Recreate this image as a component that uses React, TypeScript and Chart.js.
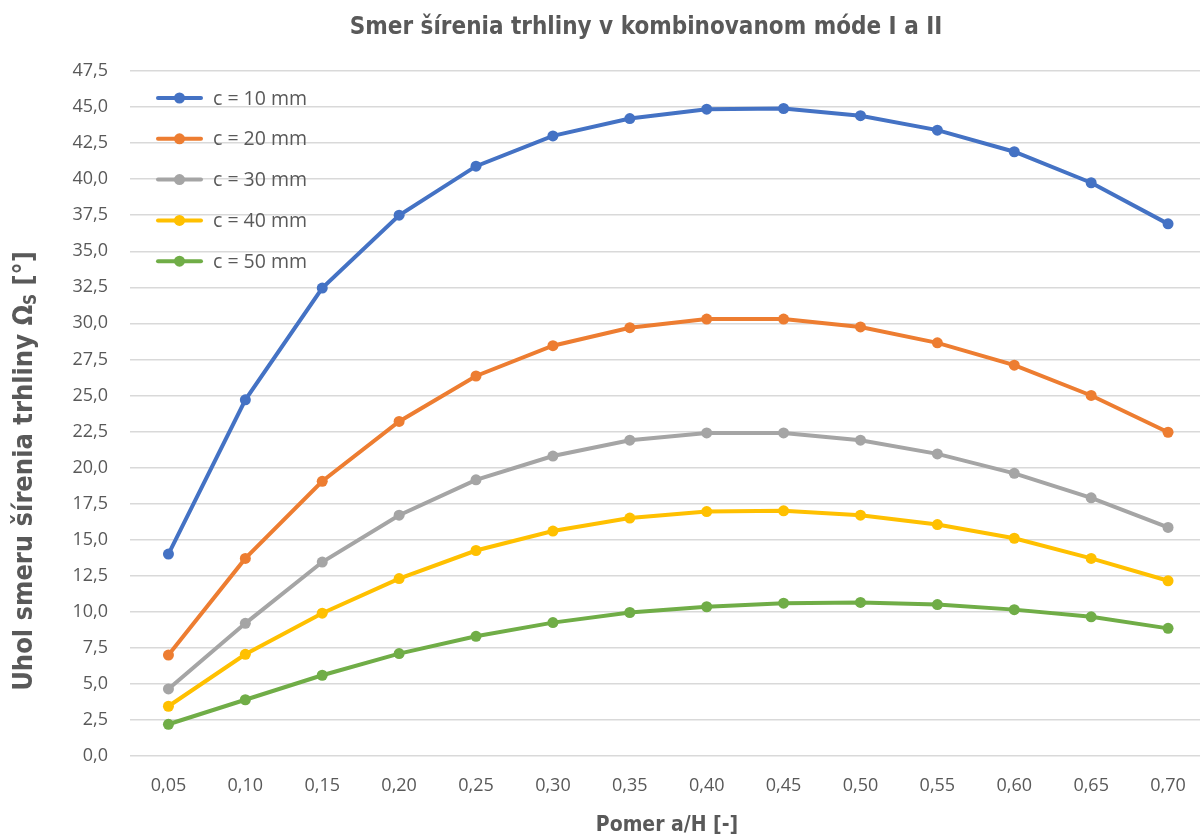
import React, { useEffect, useRef } from "react";
import { Chart, registerables } from "chart.js";

Chart.register(...registerables);

const categories = ["0,05", "0,10", "0,15", "0,20", "0,25", "0,30", "0,35", "0,40", "0,45", "0,50", "0,55", "0,60", "0,65", "0,70"];
const seriesLabels = ["c = 10 mm", "c = 20 mm", "c = 30 mm", "c = 40 mm", "c = 50 mm"];
const c10 = [14.0, 24.7, 32.45, 37.5, 40.9, 43.0, 44.2, 44.85, 44.9, 44.4, 43.4, 41.9, 39.75, 36.9];
const c20 = [7.0, 13.7, 19.05, 23.2, 26.35, 28.45, 29.7, 30.3, 30.3, 29.75, 28.65, 27.1, 25.0, 22.45];
const c30 = [4.65, 9.2, 13.45, 16.7, 19.15, 20.8, 21.9, 22.4, 22.4, 21.9, 20.95, 19.6, 17.9, 15.85];
const c40 = [3.45, 7.05, 9.9, 12.3, 14.25, 15.6, 16.5, 16.95, 17.0, 16.7, 16.05, 15.1, 13.7, 12.15];
const c50 = [2.2, 3.9, 5.6, 7.1, 8.3, 9.25, 9.95, 10.35, 10.6, 10.65, 10.5, 10.15, 9.65, 8.85];
const seriesValues = [c10, c20, c30, c40, c50];
const colors = ["#4472C4", "#ED7D31", "#A5A5A5", "#FFC000", "#70AD47"];

const titleText = "Smer šírenia trhliny v kombinovanom móde I a II";
const xTitle = "Pomer a/H [-]";
const yTitleMain = "Uhol smeru šírenia trhliny Ω";
const yTitleSub = "S";
const yTitleEnd = " [°]";

const TEXT = "#595959";
const TITLE_FONT = "'Liberation Sans Narrow', 'DejaVu Sans Condensed', sans-serif";
const TICK_FONT = "'Open Sans', 'Noto Sans', sans-serif";

const decorPlugin = {
  id: "decor",
  afterDraw(chart: any) {
    const ctx = chart.ctx as CanvasRenderingContext2D;
    ctx.save();
    ctx.fillStyle = TEXT;
    ctx.textBaseline = "middle";
    ctx.textAlign = "center";
    // main title
    ctx.font = `bold 24px ${TITLE_FONT}`;
    ctx.fillText(titleText, 646, 28);
    // x title
    ctx.font = `bold 21px ${TITLE_FONT}`;
    ctx.fillText(xTitle, 667, 826);
    // y title (rotated, with subscript)
    ctx.save();
    ctx.translate(25, 471);
    ctx.rotate(-Math.PI / 2);
    ctx.textAlign = "left";
    const mainFont = `bold 27px ${TITLE_FONT}`;
    const subFont = `bold 17px ${TITLE_FONT}`;
    ctx.font = mainFont;
    const w1 = ctx.measureText(yTitleMain).width;
    const w3 = ctx.measureText(yTitleEnd).width;
    ctx.font = subFont;
    const w2 = ctx.measureText(yTitleSub).width;
    let x = -(w1 + w2 + w3) / 2;
    ctx.font = mainFont;
    ctx.fillText(yTitleMain, x, 0);
    x += w1;
    ctx.font = subFont;
    ctx.fillText(yTitleSub, x, 7);
    x += w2;
    ctx.font = mainFont;
    ctx.fillText(yTitleEnd, x, 0);
    ctx.restore();
    // legend
    ctx.font = `19.5px ${TICK_FONT}`;
    ctx.textAlign = "left";
    chart.data.datasets.forEach((ds: any, i: number) => {
      const y = 98 + i * 40.8;
      ctx.strokeStyle = ds.borderColor;
      ctx.lineWidth = 4;
      ctx.lineCap = "round";
      ctx.beginPath();
      ctx.moveTo(158, y);
      ctx.lineTo(201, y);
      ctx.stroke();
      ctx.fillStyle = ds.borderColor;
      ctx.beginPath();
      ctx.arc(179.5, y, 5.5, 0, Math.PI * 2);
      ctx.fill();
      ctx.fillStyle = TEXT;
      ctx.fillText(ds.label, 213, y + 1);
    });
    ctx.restore();
  },
};

export default function App() {
  const ref = useRef<HTMLCanvasElement | null>(null);
  useEffect(() => {
    document.body.style.margin = "0";
    document.body.style.overflow = "hidden";
    document.body.style.background = "#ffffff";
    const canvas = ref.current!;
    const chart = new Chart(canvas, {
      type: "line",
      data: {
        labels: categories,
        datasets: seriesValues.map((vals, i) => ({
          label: seriesLabels[i],
          data: vals,
          borderColor: colors[i],
          backgroundColor: colors[i],
          pointBackgroundColor: colors[i],
          pointBorderColor: colors[i],
          borderWidth: 4,
          pointRadius: 5.5,
          pointBorderWidth: 0,
          tension: 0,
          fill: false,
        })),
      },
      options: {
        responsive: false,
        animation: false,
        devicePixelRatio: 1,
        layout: { padding: { top: 71, left: 0, right: 0, bottom: 0 } },
        plugins: {
          legend: { display: false },
          title: { display: false },
          tooltip: { enabled: false },
        },
        scales: {
          x: {
            type: "category",
            offset: true,
            grid: { display: false, drawTicks: false },
            border: { display: false },
            ticks: { color: TEXT, font: { family: TICK_FONT, size: 18 }, padding: 19, maxRotation: 0, autoSkip: false },
            afterFit: (scale: any) => {
              scale.height = 83;
            },
          },
          y: {
            min: 0,
            max: 47.5,
            grid: { color: "#d9d9d9", lineWidth: 1.5, drawTicks: false },
            border: { display: false },
            ticks: {
              stepSize: 2.5,
              color: TEXT,
              font: { family: TICK_FONT, size: 18 },
              padding: 22,
              callback: (v: any) => Number(v).toFixed(1).replace(".", ","),
            },
            afterFit: (scale: any) => {
              scale.width = 130;
            },
          },
        },
      },
      plugins: [decorPlugin],
    });
    return () => chart.destroy();
  }, []);
  return (
    <div style={{ width: 1200, height: 839, overflow: "hidden", background: "#fff" }}>
      <canvas ref={ref} width={1212} height={839} style={{ width: 1212, height: 839, display: "block" }} />
    </div>
  );
}
